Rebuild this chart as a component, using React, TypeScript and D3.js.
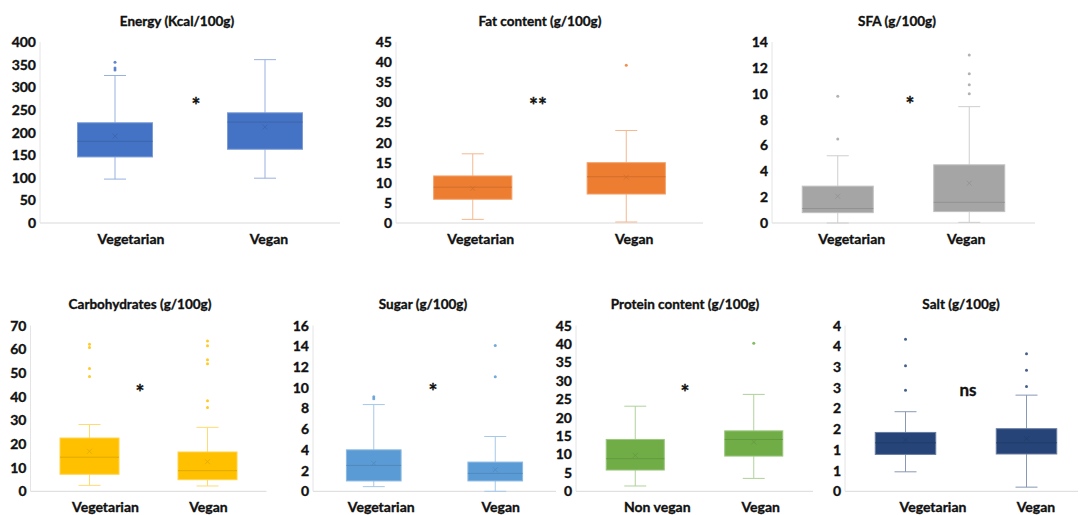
import * as d3 from 'd3';

// stats per group: [whisker low, q1, median, q3, whisker high]
const groupsVeg = ['Vegetarian', 'Vegan'];
const groupsNonVeg = ['Non vegan', 'Vegan'];

const energyStats = [[97, 146, 180.5, 221.5, 326], [99, 163, 223, 243.5, 361]];
const energyMeans = [192, 212];
const energyOutliers = [[338, 342.5, 355.5], []];

const fatStats = [[0.9, 5.9, 8.9, 11.7, 17.2], [0.25, 7.2, 11.5, 15.0, 23.0]];
const fatMeans = [8.6, 11.4];
const fatOutliers = [[], [39.2]];

const sfaStats = [[0, 0.8, 1.12, 2.85, 5.2], [0.05, 0.88, 1.6, 4.5, 9.0]];
const sfaMeans = [2.07, 3.08];
const sfaOutliers = [[6.5, 9.8], [10.0, 10.7, 11.55, 13.0]];

const carbStats = [[2.5, 7.2, 14.4, 22.5, 28.2], [2.25, 4.9, 8.7, 16.6, 27.0]];
const carbMeans = [16.9, 12.5];
const carbOutliers = [[48.5, 51.8, 60.7, 62.1], [35.4, 38.2, 53.9, 55.5, 61.5, 63.5]];

const sugarStats = [[0.45, 1.0, 2.5, 4.0, 8.37], [0, 1.0, 1.73, 2.82, 5.29]];
const sugarMeans = [2.7, 2.08];
const sugarOutliers = [[8.94, 9.13], [11.06, 14.07]];

const proteinStats = [[1.44, 5.77, 8.84, 14.07, 23.1], [3.5, 9.56, 14.07, 16.4, 26.3]];
const proteinMeans = [9.74, 13.4];
const proteinOutliers = [[], [40.2]];

const saltStats = [[0.47, 0.89, 1.17, 1.42, 1.92], [0.1, 0.9, 1.17, 1.51, 2.32]];
const saltMeans = [1.24, 1.27];
const saltOutliers = [[2.44, 3.03, 3.67], [2.53, 2.92, 3.32]];

const energyTicks = d3.range(0, 401, 50);
const fatTicks = d3.range(0, 46, 5);
const sfaTicks = d3.range(0, 15, 2);
const carbTicks = d3.range(0, 71, 10);
const sugarTicks = d3.range(0, 17, 2);
const proteinTicks = d3.range(0, 46, 5);
const saltTicks = d3.range(0, 4.01, 0.5);

const FONT = 'Lato, "Open Sans", sans-serif';
const TOP = [223, 42];
const BOTTOM = [491.3, 325.5];

const panels = [
  { title: 'Energy (Kcal/100g)', cats: groupsVeg, stats: energyStats, means: energyMeans, outliers: energyOutliers,
    ticks: energyTicks, color: '#4472C4', sig: '*', sigVal: 280, sigX: 196,
    x0: 40, x1: 340, y: TOP, titleX: 177, frac: 0.5, labelDx: [16, 4] },
  { title: 'Fat content (g/100g)', cats: groupsVeg, stats: fatStats, means: fatMeans, outliers: fatOutliers,
    ticks: fatTicks, color: '#ED7D31', sig: '**', sigVal: 31.6, sigX: 538,
    x0: 396, x1: 703, y: TOP, titleX: 540, frac: 0.51, labelDx: [8, 8] },
  { title: 'SFA (g/100g)', cats: groupsVeg, stats: sfaStats, means: sfaMeans, outliers: sfaOutliers,
    ticks: sfaTicks, color: '#A5A5A5', sig: '*', sigVal: 9.9, sigX: 910,
    x0: 772, x1: 1035, y: TOP, titleX: 897, frac: 0.54, labelDx: [14, -3] },
  { title: 'Carbohydrates (g/100g)', cats: groupsVeg, stats: carbStats, means: carbMeans, outliers: carbOutliers,
    ticks: carbTicks, color: '#FFC000', sig: '*', sigVal: 45.8, sigX: 140,
    x0: 30.5, x1: 266.5, y: BOTTOM, titleX: 140, frac: 0.5, labelDx: [16, 1] },
  { title: 'Sugar (g/100g)', cats: groupsVeg, stats: sugarStats, means: sugarMeans, outliers: sugarOutliers,
    ticks: sugarTicks, color: '#5B9BD5', sig: '*', sigVal: 10.5, sigX: 433,
    x0: 313, x1: 556, y: BOTTOM, titleX: 423, frac: 0.45, labelDx: [7.5, 5.5] },
  { title: 'Protein content (g/100g)', cats: groupsNonVeg, stats: proteinStats, means: proteinMeans, outliers: proteinOutliers,
    ticks: proteinTicks, color: '#70AD47', sig: '*', sigVal: 29.4, sigX: 685,
    x0: 576, x1: 813, y: BOTTOM, titleX: 685, frac: 0.49, labelDx: [22, 7] },
  { title: 'Salt (g/100g)', cats: groupsVeg, stats: saltStats, means: saltMeans, outliers: saltOutliers,
    ticks: saltTicks, color: '#264478', sig: 'ns', sigVal: 2.45, sigX: 968,
    x0: 845, x1: 1087, y: BOTTOM, titleX: 961, frac: 0.5, labelDx: [27.5, 9.5], fmt: (v) => String(Math.round(v)) },
];

// heavier look for Lato bold, close to the Calibri bold in the source
const txt = { fontFamily: FONT, fontWeight: 700, fill: '#111', stroke: '#111', strokeWidth: 0.35 };

const Panel = ({ p }) => {
  const x = d3.scaleBand().domain(p.cats).range([p.x0, p.x1]);
  const y = d3.scaleLinear().domain([p.ticks[0], p.ticks[p.ticks.length - 1]]).range(p.y);
  const bw = x.step() * p.frac;
  const whisker = d3.interpolateRgb(p.color, '#ffffff')(0.45);
  const edge = d3.interpolateRgb(p.color, '#ffffff')(0.3);
  const median = d3.color(p.color).darker(0.35).formatHex();
  const fmt = p.fmt || ((v) => String(v));
  const baseY = y(0);
  const top = p.y[1];
  const isTop = p.y === TOP;

  return (
    <g>
      <text x={p.titleX} y={isTop ? 26 : 309} textAnchor="middle" fontSize={13.5} {...txt}>
        {p.title}
      </text>
      <line x1={p.x0} x2={Math.min(p.x1, 1078)} y1={baseY} y2={baseY} stroke="#d9d9d9" />
      <line x1={p.x0} x2={p.x0} y1={baseY} y2={top} stroke="#e4e4e4" />
      {p.ticks.map((t) => (
        <text key={t} x={p.x0 - 4} y={y(t)} dy="0.36em" textAnchor="end" fontSize={14} {...txt}>
          {fmt(t)}
        </text>
      ))}
      {p.cats.map((c, i) => {
        const cx = x(c) + x.bandwidth() / 2;
        const [lo, q1, md, q3, hi] = p.stats[i];
        const mean = p.means[i];
        return (
          <g key={c}>
            <line x1={cx} x2={cx} y1={y(hi)} y2={y(q3)} stroke={whisker} />
            <line x1={cx} x2={cx} y1={y(q1)} y2={y(lo)} stroke={whisker} />
            <line x1={cx - 11} x2={cx + 11} y1={y(hi)} y2={y(hi)} stroke={whisker} />
            <line x1={cx - 11} x2={cx + 11} y1={y(lo)} y2={y(lo)} stroke={whisker} />
            <rect x={cx - bw / 2} y={y(q3)} width={bw} height={y(q1) - y(q3)} fill={p.color} stroke={edge} strokeWidth={1} />
            <line x1={cx - bw / 2} x2={cx + bw / 2} y1={y(md)} y2={y(md)} stroke={median} strokeWidth={1} />
            <path
              d={`M${cx - 2.5},${y(mean) - 2.5}L${cx + 2.5},${y(mean) + 2.5}M${cx - 2.5},${y(mean) + 2.5}L${cx + 2.5},${y(mean) - 2.5}`}
              stroke={median}
              strokeWidth={0.8}
            />
            {p.outliers[i].map((o, k) => (
              <circle key={k} cx={cx} cy={y(o)} r={1.5} fill={p.color} opacity={0.85} />
            ))}
            <text x={cx + p.labelDx[i]} y={isTop ? 244 : 512} textAnchor="middle" fontSize={14} {...txt}>
              {c}
            </text>
          </g>
        );
      })}
      <text x={p.sigX} y={y(p.sigVal)} dy={p.sig === 'ns' ? '0.35em' : '0.8em'} textAnchor="middle" fontSize={p.sig === 'ns' ? 17 : 21} {...txt}>
        {p.sig}
      </text>
    </g>
  );
};

export default function App() {
  return (
    <svg width={1081} height={515} style={{ position: 'absolute', left: 0, top: 0, background: '#fff' }}>
      <rect width={1081} height={515} fill="#fff" />
      {panels.map((p) => (
        <Panel key={p.title} p={p} />
      ))}
    </svg>
  );
}
